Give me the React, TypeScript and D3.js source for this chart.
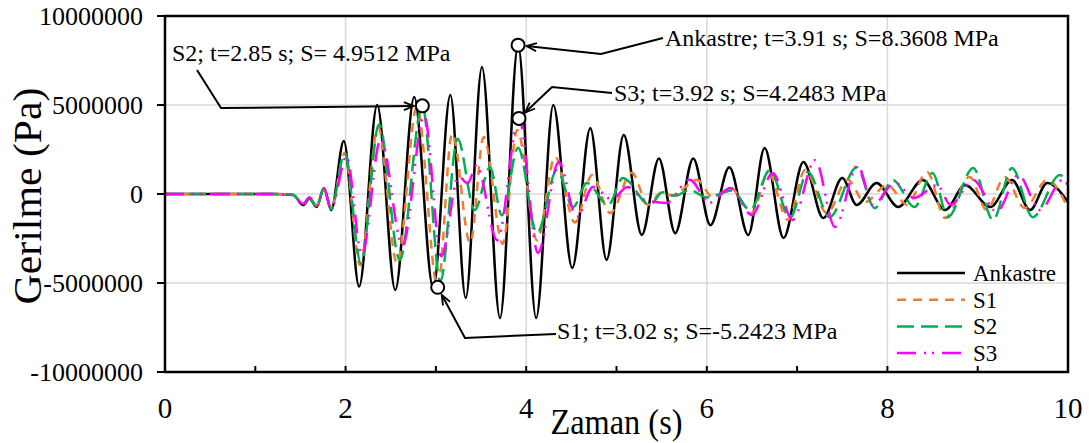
import React from 'react';
import * as d3 from 'd3';

// values in MPa at the peaks and troughs
const ankastre: [number, number][] = [
  [0, 0], [1.2, 0], [1.42, -0.05], [1.53, -0.62], [1.6, -0.25], [1.68, -0.73], [1.76, 0.34], [1.84, -0.9],
  [1.98, 2.98], [2.15, -5.2], [2.35, 5.0], [2.55, -5.4], [2.76, 5.45], [2.97, -5.3], [3.16, 5.56], [3.33, -5.84],
  [3.51, 7.13], [3.71, -6.97], [3.91, 8.36], [4.11, -6.97], [4.3, 5.0], [4.51, -4.16], [4.71, 3.7], [4.89, -3.7],
  [5.08, 3.31], [5.28, -2.3], [5.47, 2.0], [5.65, -2.2], [5.85, 2.0], [6.04, -1.75], [6.25, 1.5], [6.46, -2.3],
  [6.64, 2.58], [6.85, -2.47], [7.07, 1.8], [7.29, -1.35], [7.5, 0.9], [7.66, -0.62], [7.88, 0.62], [8.12, -0.73],
  [8.39, 0.79], [8.64, -0.9], [8.86, 0.5], [9.14, -0.73], [9.38, 0.79], [9.58, -0.9], [9.77, 0.62], [10, -0.45],
];

const s1: [number, number][] = [
  [0, 0], [1.2, 0], [1.42, -0.05], [1.53, -0.55], [1.6, -0.2], [1.68, -0.65], [1.76, 0.3], [1.84, -0.8],
  [1.99, 2.3], [2.16, -4.0], [2.36, 3.76], [2.57, -3.9], [2.79, 4.9], [3.02, -5.24], [3.18, 3.4], [3.38, -2.76],
  [3.53, 3.2], [3.74, -2.8], [3.9, 3.6], [4.12, -2.6], [4.32, 2.1], [4.54, -1.6], [4.73, 1.07], [4.93, -1.07],
  [5.17, 1.2], [5.35, -0.6], [5.5, 0.1], [5.62, -0.1], [5.89, 0.8], [6.07, -0.2], [6.26, 0.34], [6.5, -1.07],
  [6.68, 1.2], [6.9, -1.46], [7.09, 1.35], [7.33, -1.07], [7.56, 0.8], [7.75, -0.45], [8.0, 0.5], [8.22, -0.6],
  [8.44, 1.24], [8.64, -1.35], [8.91, 0.96], [9.1, -0.9], [9.3, 0.96], [9.52, -0.79], [9.77, 0.79], [10, -0.79],
];

const s2: [number, number][] = [
  [0, 0], [1.2, 0], [1.42, -0.05], [1.53, -0.6], [1.6, -0.22], [1.68, -0.7], [1.76, 0.32], [1.84, -0.85],
  [1.99, 2.3], [2.17, -3.9], [2.37, 3.9], [2.6, -3.7], [2.85, 4.95], [3.05, -4.9], [3.24, 3.1], [3.43, -0.9],
  [3.6, 1.5], [3.73, -1.2], [3.91, 2.6], [4.12, -2.2], [4.34, 1.35], [4.52, -0.73], [4.67, 0.62], [4.91, -0.62],
  [5.07, 0.9], [5.37, -0.62], [5.51, 0.1], [5.65, -0.1], [5.81, 0.22], [6.0, -0.2], [6.28, 0.2], [6.48, -0.9],
  [6.7, 1.35], [6.92, -1.35], [7.12, 1.24], [7.36, -1.3], [7.66, 1.5], [7.86, -0.79], [8.06, 0.79], [8.3, -0.73],
  [8.5, 1.18], [8.67, -1.3], [8.95, 1.46], [9.17, -1.46], [9.38, 1.46], [9.61, -1.3], [9.91, 1.07], [10, 0.5],
];

const s3: [number, number][] = [
  [0, 0], [1.2, 0], [1.42, -0.05], [1.53, -0.55], [1.6, -0.2], [1.68, -0.65], [1.76, 0.3], [1.84, -0.8],
  [2.01, 2.1], [2.18, -3.4], [2.39, 3.1], [2.63, -2.9], [2.87, 4.4], [3.06, -3.5], [3.25, 1.0], [3.35, 0.6],
  [3.45, 1.6], [3.68, -2.6], [3.92, 4.25], [4.13, -3.3], [4.36, 1.8], [4.56, -1.3], [4.74, 0.4], [4.95, -0.3],
  [5.12, 0.4], [5.3, -0.3], [5.55, -0.5], [5.81, 0.8], [6.03, -0.5], [6.26, 0.34], [6.5, -1.18], [6.73, 1.18],
  [6.95, -1.46], [7.2, 1.9], [7.42, -1.85], [7.67, 1.6], [7.84, -0.62], [8.08, 0.62], [8.3, -0.22], [8.55, 0.5],
  [8.7, -0.6], [8.95, 0.79], [9.21, -1.0], [9.45, 1.07], [9.69, -0.9], [9.94, 0.79], [10, 0.5],
];

const seriesNames = ['Ankastre', 'S1', 'S2', 'S3'];
const yTicks = [-10000000, -5000000, 0, 5000000, 10000000];
const xTicks = [0, 2, 4, 6, 8, 10];

// annotated maxima: t (s), S (MPa)
const annotations = [
  { name: 'Ankastre', t: 3.91, s: 8.3608, label: 'Ankastre; t=3.91 s; S=8.3608 MPa' },
  { name: 'S2', t: 2.85, s: 4.9512, label: 'S2; t=2.85 s; S= 4.9512 MPa' },
  { name: 'S3', t: 3.92, s: 4.2483, label: 'S3; t=3.92 s; S=4.2483 MPa' },
  { name: 'S1', t: 3.02, s: -5.2423, label: 'S1; t=3.02 s; S=-5.2423 MPa' },
];

const W = 1089, H = 443;
const margin = { left: 165, right: 21, top: 16, bottom: 71 };
const font = '"Liberation Serif", "Times New Roman", serif';

const styles: Record<string, { color: string; dash: string }> = {
  Ankastre: { color: '#000000', dash: '' },
  S1: { color: '#ED7D31', dash: '9,7' },
  S2: { color: '#00B050', dash: '17,7' },
  S3: { color: '#FF00FF', dash: '19,8,2,6,2,8' },
};

// label position and elbow of each leader line, in pixels
const leaders: Record<string, { tx: number; ty: number; path: [number, number][] }> = {
  Ankastre: { tx: 665, ty: 46, path: [[663, 38], [601, 54]] },
  S2: { tx: 172, ty: 61, path: [[197, 70], [221, 108]] },
  S3: { tx: 614, ty: 101, path: [[612, 93], [552, 87]] },
  S1: { tx: 557, ty: 339, path: [[556, 334], [465, 338]] },
};

const App = () => {
  let x = d3.scaleLinear().domain([0, 10]).range([margin.left, W - margin.right]);
  let y = d3.scaleLinear().domain([-10000000, 10000000]).range([H - margin.bottom, margin.top]);
  let l = d3.line<[number, number]>().x(d => x(d[0])).y(d => y(d[1] * 1e6)).curve(d3.curveMonotoneX);
  let data: Record<string, [number, number][]> = { Ankastre: ankastre, S1: s1, S2: s2, S3: s3 };
  let x0 = x(0), x1 = x(10), yTop = y(10000000), yBot = y(-10000000);
  let r = 6.5;

  return (
    <svg width={W} height={H} style={{ position: 'absolute', left: 0, top: 0, background: '#fff', fontFamily: font }}>
      <defs>
        <marker id="arr" viewBox="0 0 12 10" refX="11" refY="5" markerWidth="12" markerHeight="10"
                markerUnits="userSpaceOnUse" orient="auto">
          <path d="M1,1L11,5L1,9" fill="none" stroke="#000" strokeWidth="1.8" />
        </marker>
      </defs>

      {/* grid */}
      <g stroke="#d9d9d9" strokeWidth="1.5">
        {[-5000000, 0, 5000000].map(t => <line key={'h' + t} x1={x0} x2={x1} y1={y(t)} y2={y(t)} />)}
        {[2, 4, 6, 8].map(t => <line key={'v' + t} x1={x(t)} x2={x(t)} y1={yTop} y2={yBot} />)}
      </g>

      {/* series */}
      {seriesNames.map(n => (
        <path key={n} d={l(data[n]) || ''} fill="none" stroke={styles[n].color} strokeWidth="2.5"
              strokeDasharray={styles[n].dash || undefined} strokeLinejoin="round" />
      ))}

      {/* frame and ticks */}
      <rect x={x0} y={yTop} width={x1 - x0} height={yBot - yTop} fill="none" stroke="#000" strokeWidth="2.5" />
      <g stroke="#000" strokeWidth="2">
        {yTicks.map(t => <line key={t} x1={x0 - 8} x2={x0} y1={y(t)} y2={y(t)} />)}
        {d3.range(0, 11).map(t => <line key={t} x1={x(t)} x2={x(t)} y1={yBot} y2={yBot - 6} />)}
      </g>
      <g fontSize="26" fill="#000" textAnchor="end">
        {yTicks.map(t => <text key={t} x={143} y={y(t) + 9}>{String(t)}</text>)}
      </g>
      <g fontSize="29" fill="#000" textAnchor="middle">
        {xTicks.map(t => <text key={t} x={x(t)} y={418}>{t}</text>)}
      </g>
      <text x={x(5)} y={434} fontSize="36" textAnchor="middle" textLength={132} lengthAdjust="spacingAndGlyphs">Zaman (s)</text>
      <text transform="translate(41,196) rotate(-90)" fontSize="40" textAnchor="middle" textLength={217}
            lengthAdjust="spacingAndGlyphs">Gerilme (Pa)</text>

      {/* annotations */}
      {annotations.map(a => {
        let cx = x(a.t), cy = y(a.s * 1e6);
        let ld = leaders[a.name];
        let last = ld.path[ld.path.length - 1];
        let ang = Math.atan2(cy - last[1], cx - last[0]);
        let tip: [number, number] = [cx - Math.cos(ang) * (r + 2), cy - Math.sin(ang) * (r + 2)];
        let pts = [...ld.path, tip];
        return (
          <g key={a.name}>
            <path d={d3.line()(pts) || ''} fill="none" stroke="#000" strokeWidth="2" markerEnd="url(#arr)" />
            <circle cx={cx} cy={cy} r={r} fill="#fff" stroke="#000" strokeWidth="2" />
            <text x={ld.tx} y={ld.ty} fontSize="24" fill="#000">{a.label}</text>
          </g>
        );
      })}

      {/* legend */}
      {seriesNames.map((n, i) => {
        let ly = 273 + i * 26.7;
        return (
          <g key={n}>
            <line x1={897} x2={965} y1={ly} y2={ly} stroke={styles[n].color} strokeWidth="2.5"
                  strokeDasharray={styles[n].dash || undefined} />
            <text x={973} y={ly + 8} fontSize="23" fill="#000">{n}</text>
          </g>
        );
      })}
    </svg>
  );
};

export default App;
